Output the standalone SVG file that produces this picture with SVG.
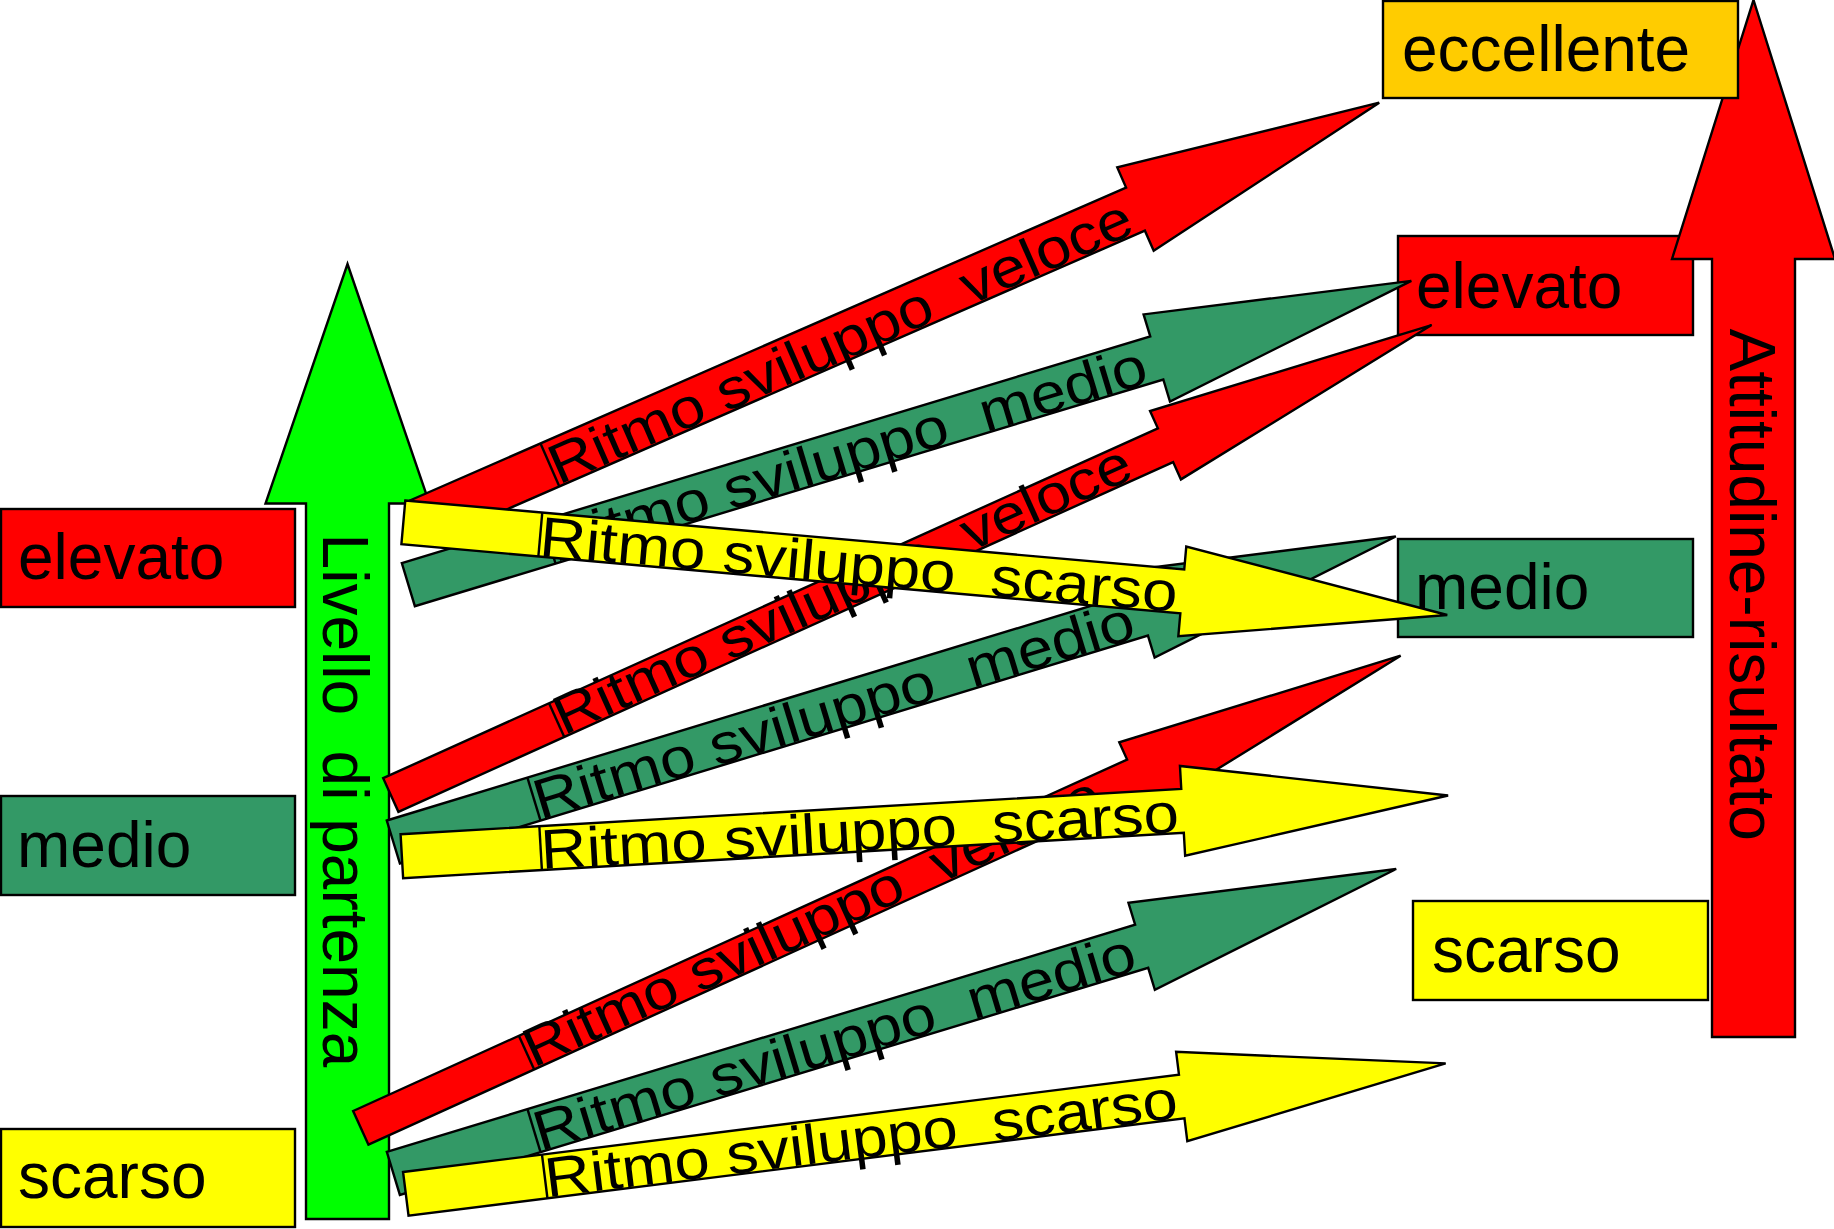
<svg xmlns="http://www.w3.org/2000/svg" width="1834" height="1229" viewBox="0 0 1834 1229">
<style>
.s{stroke:#000;stroke-width:2.4;stroke-linejoin:miter}
.r{fill:#FF0000}.g{fill:#339966}.y{fill:#FFFF00}.o{fill:#FFCC00}.lg{fill:#00FF00}
text{font-family:"Liberation Sans",Arial,Helvetica,sans-serif;fill:#000;white-space:pre}
.lbl{font-size:64px}
.at{font-size:56px}
.atb{font-size:55px}
.edge{stroke:#000;stroke-width:2.4}
</style>
<defs>
<polygon id="arrA" points="0,-22.5 782,-22.5 782,-45.5 1048,0 782,45.5 782,22.5 0,22.5"/>
<polygon id="arrR1" points="0,-23.5 781,-23.5 781,-45.5 1047,0 781,45.5 781,23.5 0,23.5"/>
<polygon id="arrY" points="0,-22 782,-22 782,-45 1048,0 782,45 782,22 0,22"/>
<polygon id="arrB" points="0,-18.5 850,-18.5 850,-37.5 1142,0 850,37.5 850,18.5 0,18.5"/>
</defs>
<rect width="1834" height="1229" fill="#fff"/>

<g id="livello-partenza">
<polygon class="lg s" points="347.5,264 429.5,503.5 389,503.5 389,1219 306,1219 306,503.5 265.5,503.5"/>
<text class="lbl" xml:space="preserve" transform="translate(323,533.6) rotate(90)">Livello  di partenza</text>
</g>

<g id="risultato-elevato">
<rect class="r s" x="1398" y="236" width="295" height="99"/>
<text class="lbl" x="1416" y="308">elevato</text>
</g>

<g id="attitudine-risultato">
<polygon class="r s" points="1753.5,0 1835,259 1795,259 1795,1037 1712,1037 1712,259 1672,259"/>
<text class="lbl" transform="translate(1730,328.5) rotate(90)">Attitudine-risultato</text>
</g>

<g id="partenza-elevato">
<rect class="r s" x="1" y="509" width="294" height="98"/>
<text class="lbl" x="18" y="579">elevato</text>
</g>
<g id="partenza-medio">
<rect class="g s" x="1" y="796" width="294" height="99"/>
<text class="lbl" x="17" y="867">medio</text>
</g>
<g id="partenza-scarso">
<rect class="y s" x="1" y="1129" width="294" height="98"/>
<text class="lbl" x="18" y="1198">scarso</text>
</g>

<g id="risultato-eccellente">
<rect class="o s" x="1383" y="1" width="355" height="97"/>
<text class="lbl" x="1402" y="71">eccellente</text>
</g>
<g id="risultato-medio">
<rect class="g s" x="1398" y="539" width="295" height="98"/>
<text class="lbl" x="1415" y="609">medio</text>
</g>
<g id="risultato-scarso">
<rect class="y s" x="1413" y="901" width="295" height="99"/>
<text class="lbl" x="1432" y="972">scarso</text>
</g>

<g id="connectors">
<g id="elevato-veloce" transform="translate(419.8,521.8) rotate(-23.6)">
<use href="#arrR1" class="r s"/>
<line class="edge" x1="142" y1="-23.5" x2="142" y2="23.5"/>
<text class="at" xml:space="preserve" x="142" y="22" textLength="631" lengthAdjust="spacingAndGlyphs">Ritmo sviluppo  veloce</text>
</g>
<g id="elevato-medio" transform="translate(408.35,584.65) rotate(-16.85)">
<use href="#arrA" class="g s"/>
<line class="edge" x1="147" y1="-22.5" x2="147" y2="22.5"/>
<text class="at" xml:space="preserve" x="147" y="21.5" textLength="622" lengthAdjust="spacingAndGlyphs">Ritmo sviluppo  medio</text>
</g>
<g id="medio-veloce" transform="translate(390.8,795) rotate(-24.3)">
<use href="#arrB" class="r s"/>
<line class="edge" x1="182" y1="-18.5" x2="182" y2="18.5"/>
<text class="atb" xml:space="preserve" x="182" y="17" textLength="628" lengthAdjust="spacingAndGlyphs">Ritmo sviluppo  veloce</text>
</g>
<g id="medio-medio" transform="translate(393.35,842) rotate(-16.95)">
<use href="#arrA" class="g s"/>
<line class="edge" x1="147" y1="-22.5" x2="147" y2="22.5"/>
<text class="at" xml:space="preserve" x="147" y="21.5" textLength="625" lengthAdjust="spacingAndGlyphs">Ritmo sviluppo  medio</text>
</g>
<g id="scarso-veloce" transform="translate(360.8,1127.85) rotate(-24.42)">
<use href="#arrB" class="r s"/>
<line class="edge" x1="182" y1="-18.5" x2="182" y2="18.5"/>
<text class="atb" xml:space="preserve" x="182" y="17" textLength="628" lengthAdjust="spacingAndGlyphs">Ritmo sviluppo  veloce</text>
</g>
<g id="scarso-medio" transform="translate(393.35,1173.35) rotate(-16.88)">
<use href="#arrA" class="g s"/>
<line class="edge" x1="147" y1="-22.5" x2="147" y2="22.5"/>
<text class="at" xml:space="preserve" x="147" y="21.5" textLength="626" lengthAdjust="spacingAndGlyphs">Ritmo sviluppo  medio</text>
</g>
<g id="elevato-scarso" transform="translate(403.35,522.35) rotate(5.07)">
<use href="#arrY" class="y s"/>
<line class="edge" x1="137.5" y1="-22" x2="137.5" y2="22"/>
<text class="at" xml:space="preserve" x="137.5" y="21" textLength="640" lengthAdjust="spacingAndGlyphs">Ritmo sviluppo  scarso</text>
</g>
<g id="medio-scarso" transform="translate(401.85,856.15) rotate(-3.32)">
<use href="#arrY" class="y s"/>
<line class="edge" x1="139" y1="-22" x2="139" y2="22"/>
<text class="at" xml:space="preserve" x="139" y="21" textLength="639" lengthAdjust="spacingAndGlyphs">Ritmo sviluppo  scarso</text>
</g>
<g id="scarso-scarso" transform="translate(405.8,1193.85) rotate(-7.15)">
<use href="#arrY" class="y s"/>
<line class="edge" x1="140" y1="-22" x2="140" y2="22"/>
<text class="at" xml:space="preserve" x="140" y="21" textLength="637" lengthAdjust="spacingAndGlyphs">Ritmo sviluppo  scarso</text>
</g>
</g>
</svg>
